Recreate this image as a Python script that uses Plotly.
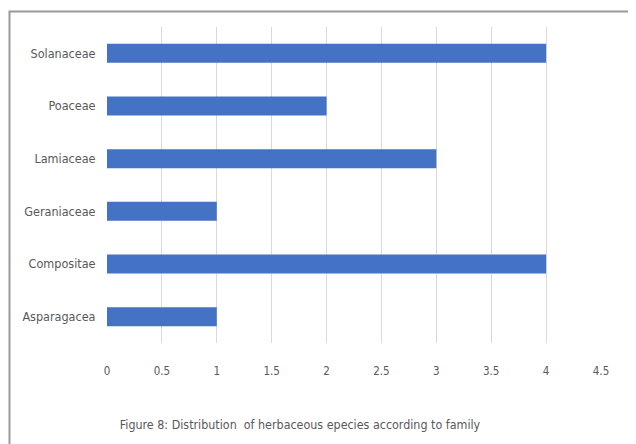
import plotly.graph_objects as go

categories = ["Asparagacea", "Compositae", "Geraniaceae", "Lamiaceae", "Poaceae", "Solanaceae"]
values = [1, 4, 1, 3, 2, 4]
x_ticks = [0, 0.5, 1, 1.5, 2, 2.5, 3, 3.5, 4, 4.5]
x_tick_labels = ["0", "0.5", "1", "1.5", "2", "2.5", "3", "3.5", "4", "4.5"]
caption = "Figure 8: Distribution  of herbaceous epecies according to family"

# page body has an 8px default margin; figure coordinates compensate for it
W, H = 636, 444
ml, mr, mt, mb = 99, 43, 19, 109
FONT = "DejaVu Sans Condensed, Liberation Sans Narrow, sans-serif"
TXT = "#595959"

fig = go.Figure(go.Bar(
    y=categories, x=values, orientation="h",
    marker=dict(color="#4472C4", line=dict(width=0)),
    hoverinfo="skip",
))

pw = W - ml - mr
ph = H - mt - mb
def px_to_paper_x(px):
    return (px - ml) / pw
def px_to_paper_y(py):
    return (H - mb - py) / ph

fig.update_layout(
    width=W, height=H,
    margin=dict(l=ml, r=mr, t=mt, b=mb, pad=0),
    paper_bgcolor="white", plot_bgcolor="white",
    bargap=0.64,
    showlegend=False,
    font=dict(family=FONT, color=TXT, size=12),
    title=dict(text=caption, x=292 / W, xanchor="center", xref="container",
               y=(H - 417) / H, yanchor="middle", yref="container",
               font=dict(family=FONT, size=12.4, color=TXT)),
    xaxis=dict(range=[0, 4.5], tickvals=x_ticks, ticktext=x_tick_labels,
               showgrid=True, gridcolor="#D9D9D9", gridwidth=1,
               zeroline=False, showline=False,
               ticks="outside", ticklen=17, tickcolor="rgba(0,0,0,0)",
               tickfont=dict(size=11.5, color=TXT), fixedrange=True),
    yaxis=dict(showgrid=False, zeroline=False, showline=False,
               ticks="outside", ticklen=8, tickcolor="rgba(0,0,0,0)",
               tickfont=dict(size=12.5, color=TXT), fixedrange=True),
    shapes=[dict(type="rect", xref="paper", yref="paper",
                 x0=px_to_paper_x(1.5), x1=px_to_paper_x(700),
                 y0=px_to_paper_y(500), y1=px_to_paper_y(3.5),
                 line=dict(color="#9a9a9a", width=2), fillcolor="rgba(0,0,0,0)",
                 layer="above")],
)

fig.write_html("out.html", config={"displayModeBar": False})
